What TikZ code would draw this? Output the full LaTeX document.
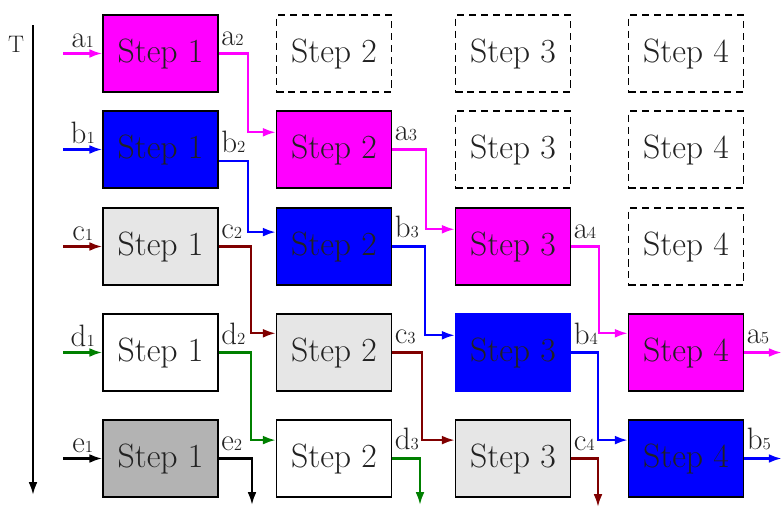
\documentclass[tikz,border=0pt]{standalone}
\definecolor{flowMagenta}{HTML}{FF00FF}
\definecolor{flowBlue}{HTML}{0000FF}
\definecolor{flowRed}{HTML}{800000}
\definecolor{flowGreen}{HTML}{008000}
\definecolor{boxLight}{HTML}{E6E6E6}
\definecolor{boxGray}{HTML}{B3B3B3}
\definecolor{inkGray}{HTML}{222222}
\usepackage{tikz}
\usetikzlibrary{
	arrows.meta,
	positioning,
	calc
}
\newcommand{\tlab}[2]{#1{\fontsize{12}{12}\selectfont #2}}

\begin{document}
\begin{tikzpicture}[x=0.025cm,y=-0.025cm,
	stepbox/.style={draw,line width=1pt,minimum width=2.875cm,minimum height=1.925cm,inner sep=0pt,text=inkGray,font=\fontsize{24}{26}\selectfont},
	ghost/.style={stepbox,dash pattern=on 5pt off 3.5pt},
	flow/.style={line width=1.6pt,-{Latex[length=3.2mm,width=2.2mm]}},
	lbl/.style={inner sep=1pt,text=inkGray,font=\fontsize{22}{24}\selectfont}]
		\useasboundingbox (0,0) rectangle (781,506);
		% time axis
		\coordinate (t0) at (33,25);
		\coordinate (t1) at (33,495);
		\draw[flow,black] (t0) -- (t1);
		\node[text=inkGray,font=\fontsize{17}{18}\selectfont] (tlbl) at (16,44) {T};
		% boxes
		\node[stepbox,fill=flowMagenta] (s11) at (160.5,53.5) {Step 1};
		\node[stepbox,fill=flowBlue] (s21) at (160.5,149.5) {Step 1};
		\node[stepbox,fill=boxLight] (s31) at (160.5,246.5) {Step 1};
		\node[stepbox,fill=white] (s41) at (160.5,352.5) {Step 1};
		\node[stepbox,fill=boxGray] (s51) at (160.5,458.5) {Step 1};
		\node[stepbox,fill=flowMagenta] (s22) at (334,149.5) {Step 2};
		\node[stepbox,fill=flowBlue] (s32) at (334,246.5) {Step 2};
		\node[stepbox,fill=boxLight] (s42) at (334,352.5) {Step 2};
		\node[stepbox,fill=white] (s52) at (334,458.5) {Step 2};
		\node[stepbox,fill=flowMagenta] (s33) at (513,246.5) {Step 3};
		\node[stepbox,fill=flowBlue,draw=flowBlue] (s43) at (513,352.5) {Step 3};
		\node[stepbox,fill=boxLight] (s53) at (513,458.5) {Step 3};
		\node[stepbox,fill=flowMagenta] (s44) at (686,352.5) {Step 4};
		\node[stepbox,fill=flowBlue] (s54) at (686,458.5) {Step 4};
		\foreach \r/\c/\px/\py in {1/2/334/53.5,1/3/513/53.5,1/4/686/53.5,2/3/513/149.5,2/4/686/149.5,3/4/686/246.5}
			{\node[ghost] (s\r\c) at (\px,\py) {Step \c};}
		% inputs
		\foreach \r/\n/\col in {1/a/flowMagenta,2/b/flowBlue,3/c/flowRed,4/d/flowGreen,5/e/black}{
			\coordinate (in\n) at ($(s\r1.west)+(-39,0)$);
			\draw[flow,\col] (in\n) -- (s\r1.west) node[lbl,midway,above=2pt] (l\n1) {\tlab{\n}{1}};
		}
		% magenta
		\draw[flow,flowMagenta] (s11.east) node[lbl,above right=4pt and 0pt] (la2) {\tlab{a}{2}}
			-- ++(29,0) |- ([yshift=-0.55cm]s22.north west);
		\draw[flow,flowMagenta] (s22.east) node[lbl,above right=4pt and 0pt] (la3) {\tlab{a}{3}}
			-- ++(34,0) |- ([yshift=-0.55cm]s33.north west);
		\draw[flow,flowMagenta] (s33.east) node[lbl,above right=4pt and 0pt] (la4) {\tlab{a}{4}}
			-- ++(28,0) |- ([yshift=-0.5cm]s44.north west);
		\coordinate (a5end) at ($(s44.east)+(37.5,0)$);
		\draw[flow,flowMagenta] (s44.east) node[lbl,above right=4pt and 0pt] (la5) {\tlab{a}{5}} -- (a5end);
		% blue
		\draw[flow,flowBlue] ([yshift=-0.29cm]s21.east) node[lbl,above right=4pt and 0pt] (lb2) {\tlab{b}{2}}
			-- ++(29,0) |- ([yshift=-0.62cm]s32.north west);
		\draw[flow,flowBlue] (s32.east) node[lbl,above right=4pt and 0pt] (lb3) {\tlab{b}{3}}
			-- ++(33,0) |- ([yshift=-0.55cm]s43.north west);
		\draw[flow,flowBlue] (s43.east) node[lbl,above right=4pt and 0pt] (lb4) {\tlab{b}{4}}
			-- ++(27,0) |- ([yshift=-0.52cm]s54.north west);
		\coordinate (b5end) at ($(s54.east)+(37.5,0)$);
		\draw[flow,flowBlue] (s54.east) node[lbl,above right=4pt and 0pt] (lb5) {\tlab{b}{5}} -- (b5end);
		% dark red
		\draw[flow,flowRed] (s31.east) node[lbl,above right=4pt and 0pt] (lc2) {\tlab{c}{2}}
			-- ++(32,0) |- ([yshift=-0.5cm]s42.north west);
		\draw[flow,flowRed] (s42.east) node[lbl,above right=4pt and 0pt] (lc3) {\tlab{c}{3}}
			-- ++(30,0) |- ([yshift=-0.52cm]s53.north west);
		\coordinate (c4end) at (598,507);
		\draw[flow,flowRed] (s53.east) node[lbl,above right=4pt and 0pt] (lc4) {\tlab{c}{4}} -| (c4end);
		% green
		\draw[flow,flowGreen] (s41.east) node[lbl,above right=4pt and 0pt] (ld2) {\tlab{d}{2}}
			-- ++(32,0) |- ([yshift=-0.52cm]s52.north west);
		\coordinate (d3end) at (420,505);
		\draw[flow,flowGreen] (s52.east) node[lbl,above right=4pt and 0pt] (ld3) {\tlab{d}{3}} -| (d3end);
		% black
		\coordinate (e2end) at (252,505);
		\draw[flow,black] (s51.east) node[lbl,above right=4pt and 0pt] (le2) {\tlab{e}{2}} -| (e2end);
	\end{tikzpicture}
\end{document}
